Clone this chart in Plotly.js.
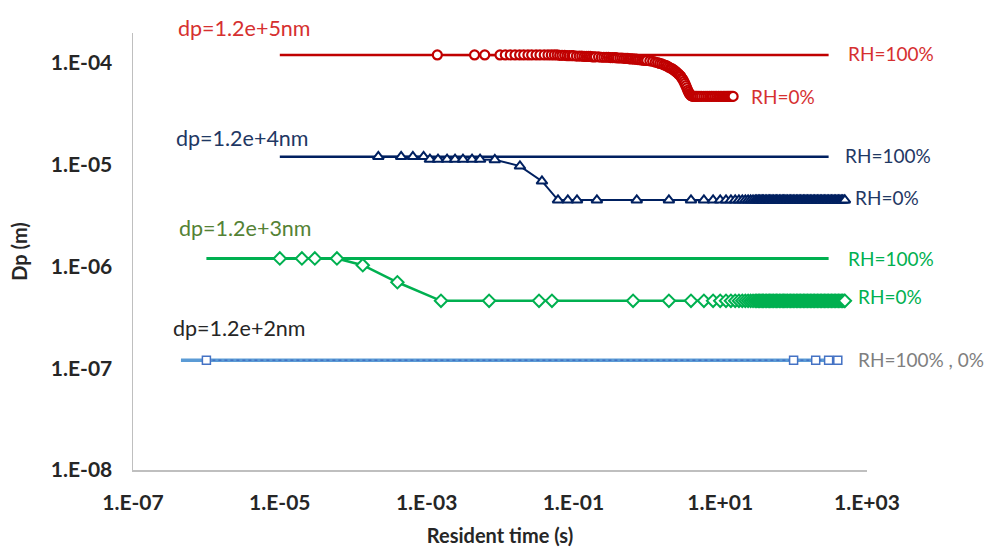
<!DOCTYPE html>
<html>
<head>
<meta charset="utf-8">
<script src="https://cdn.plot.ly/plotly-3.0.1.min.js"></script>
<style>
  html, body { margin: 0; padding: 0; background: #ffffff; }
  #chart { width: 986px; height: 548px; }
</style>
</head>
<body>
<div id="chart"></div>
<script>
// ---------- tick labels ----------
const xTickVals = [1e-7, 1e-5, 1e-3, 1e-1, 1e1, 1e3];
const xTickText = ['1.E-07', '1.E-05', '1.E-03', '1.E-01', '1.E+01', '1.E+03'];
const yTickVals = [1e-8, 1e-7, 1e-6, 1e-5, 1e-4];
const yTickText = ['1.E-08', '1.E-07', '1.E-06', '1.E-05', '1.E-04'];

// ---------- RH = 100% (no evaporation) ----------
const redWetT = [1e-5, 300];
const redWetD = [1.2e-4, 1.2e-4];
const navyWetT = [1e-5, 300];
const navyWetD = [1.2e-5, 1.2e-5];
const greenWetT = [1e-6, 300];
const greenWetD = [1.2e-6, 1.2e-6];
const blueWetT = [4.5e-7, 400];
const blueWetD = [1.2e-7, 1.2e-7];

// ---------- RH = 0% ----------
const redDryT = [
  0.0014, 0.0045, 0.0062, 0.010, 0.0118, 0.0138, 0.016, 0.0185, 0.021, 0.024,
  0.027, 0.031, 0.035, 0.040, 0.045, 0.050, 0.055, 0.060, 0.065, 0.070,
  0.076, 0.082, 0.088, 0.095, 0.10, 0.11, 0.12, 0.13, 0.14, 0.15,
  0.16, 0.17, 0.18, 0.19, 0.20, 0.22, 0.24, 0.26, 0.28, 0.30,
  0.32, 0.34, 0.36, 0.38, 0.40, 0.43, 0.46, 0.49, 0.52, 0.55,
  0.58, 0.61, 0.64, 0.68, 0.72, 0.76, 0.80, 0.85, 0.90, 0.95,
  1.0, 1.1, 1.2, 1.3, 1.4, 1.5, 1.6, 1.7, 1.8, 1.9,
  2.0, 2.1, 2.2, 2.3, 2.4, 2.5, 2.6, 2.7, 2.8, 2.9,
  3.0, 3.1, 3.2, 3.3, 3.4, 3.5, 3.6, 3.7, 3.8, 3.9,
  4.0, 4.1, 4.2, 4.4, 4.6, 4.8, 5.0, 5.3, 5.6, 6.0,
  6.4, 6.8, 7.2, 7.6, 8.0, 8.5, 9.0, 9.5, 10, 10.5,
  11, 11.5, 12, 12.5, 13, 13.5, 14, 14.5, 15
];
const redDryD = [
  1.2e-4, 1.2e-4, 1.2e-4, 1.2e-4, 1.2e-4, 1.2e-4, 1.2e-4, 1.2e-4, 1.2e-4, 1.2e-4,
  1.2e-4, 1.2e-4, 1.2e-4, 1.2e-4, 1.2e-4, 1.2e-4, 1.2e-4, 1.2e-4, 1.19e-4, 1.19e-4,
  1.19e-4, 1.18e-4, 1.18e-4, 1.18e-4, 1.18e-4, 1.17e-4, 1.17e-4, 1.17e-4, 1.16e-4, 1.16e-4,
  1.16e-4, 1.16e-4, 1.15e-4, 1.15e-4, 1.15e-4, 1.15e-4, 1.14e-4, 1.14e-4, 1.14e-4, 1.14e-4,
  1.13e-4, 1.13e-4, 1.13e-4, 1.13e-4, 1.12e-4, 1.12e-4, 1.12e-4, 1.11e-4, 1.11e-4, 1.11e-4,
  1.10e-4, 1.10e-4, 1.10e-4, 1.09e-4, 1.09e-4, 1.08e-4, 1.08e-4, 1.07e-4, 1.07e-4, 1.06e-4,
  1.06e-4, 1.05e-4, 1.04e-4, 1.02e-4, 1.01e-4, 9.9e-5, 9.8e-5, 9.6e-5, 9.5e-5, 9.3e-5,
  9.1e-5, 8.9e-5, 8.8e-5, 8.6e-5, 8.4e-5, 8.2e-5, 8.0e-5, 7.8e-5, 7.6e-5, 7.4e-5,
  7.1e-5, 6.9e-5, 6.6e-5, 6.3e-5, 6.0e-5, 5.7e-5, 5.4e-5, 5.2e-5, 5.0e-5, 4.9e-5,
  4.8e-5, 4.75e-5, 4.7e-5, 4.7e-5, 4.7e-5, 4.7e-5, 4.7e-5, 4.7e-5, 4.7e-5, 4.7e-5,
  4.7e-5, 4.7e-5, 4.7e-5, 4.7e-5, 4.7e-5, 4.7e-5, 4.7e-5, 4.7e-5, 4.7e-5, 4.7e-5,
  4.7e-5, 4.7e-5, 4.7e-5, 4.7e-5, 4.7e-5, 4.7e-5, 4.7e-5, 4.7e-5, 4.7e-5
];

// late-time samples shared by the 1.2e+4 nm and 1.2e+3 nm runs (s)
const lateT = [
  2, 4, 6, 8, 10, 12, 14, 16, 18, 20,
  22, 24, 26, 28, 30, 31.5, 33, 34.5, 36, 37.5,
  39, 41, 43, 45, 47, 49, 51, 53.5, 56, 58.5,
  61, 64, 67, 70, 73, 76, 79, 83, 87, 91,
  95, 99, 104, 109, 114, 119, 124, 130, 136, 142,
  148, 155, 162, 169, 177, 185, 193, 202, 211, 221,
  231, 241, 252, 263, 275, 287, 300, 314, 328, 343,
  358, 374, 391, 409, 427, 446, 466, 487, 500
];

const navyEarlyT = [
  2.2e-4, 4.5e-4, 6.5e-4, 9.1e-4, 1.11e-3, 1.43e-3, 1.9e-3, 2.44e-3, 3.13e-3, 4.16e-3,
  5.35e-3, 8.5e-3, 0.0187, 0.0373, 0.0617, 0.084, 0.112, 0.209, 0.73
];
const navyEarlyD = [
  1.2e-5, 1.2e-5, 1.2e-5, 1.2e-5, 1.13e-5, 1.13e-5, 1.13e-5, 1.13e-5, 1.13e-5, 1.13e-5,
  1.13e-5, 1.12e-5, 9.7e-6, 6.9e-6, 4.5e-6, 4.5e-6, 4.5e-6, 4.5e-6, 4.5e-6
];
const navyLateD = [
  4.5e-6, 4.5e-6, 4.5e-6, 4.5e-6, 4.5e-6, 4.5e-6, 4.5e-6, 4.5e-6, 4.5e-6, 4.5e-6,
  4.5e-6, 4.5e-6, 4.5e-6, 4.5e-6, 4.5e-6, 4.5e-6, 4.5e-6, 4.5e-6, 4.5e-6, 4.5e-6,
  4.5e-6, 4.5e-6, 4.5e-6, 4.5e-6, 4.5e-6, 4.5e-6, 4.5e-6, 4.5e-6, 4.5e-6, 4.5e-6,
  4.5e-6, 4.5e-6, 4.5e-6, 4.5e-6, 4.5e-6, 4.5e-6, 4.5e-6, 4.5e-6, 4.5e-6, 4.5e-6,
  4.5e-6, 4.5e-6, 4.5e-6, 4.5e-6, 4.5e-6, 4.5e-6, 4.5e-6, 4.5e-6, 4.5e-6, 4.5e-6,
  4.5e-6, 4.5e-6, 4.5e-6, 4.5e-6, 4.5e-6, 4.5e-6, 4.5e-6, 4.5e-6, 4.5e-6, 4.5e-6,
  4.5e-6, 4.5e-6, 4.5e-6, 4.5e-6, 4.5e-6, 4.5e-6, 4.5e-6, 4.5e-6, 4.5e-6, 4.5e-6,
  4.5e-6, 4.5e-6, 4.5e-6, 4.5e-6, 4.5e-6, 4.5e-6, 4.5e-6, 4.5e-6, 4.5e-6
];

const greenEarlyT = [1e-5, 2e-5, 3e-5, 6e-5, 1.35e-4, 4e-4, 1.57e-3, 7.1e-3, 0.034, 0.051, 0.65];
const greenEarlyD = [1.2e-6, 1.2e-6, 1.2e-6, 1.2e-6, 1.03e-6, 7.0e-7, 4.6e-7, 4.6e-7, 4.6e-7, 4.6e-7, 4.6e-7];
const greenLateD = [
  4.6e-7, 4.6e-7, 4.6e-7, 4.6e-7, 4.6e-7, 4.6e-7, 4.6e-7, 4.6e-7, 4.6e-7, 4.6e-7,
  4.6e-7, 4.6e-7, 4.6e-7, 4.6e-7, 4.6e-7, 4.6e-7, 4.6e-7, 4.6e-7, 4.6e-7, 4.6e-7,
  4.6e-7, 4.6e-7, 4.6e-7, 4.6e-7, 4.6e-7, 4.6e-7, 4.6e-7, 4.6e-7, 4.6e-7, 4.6e-7,
  4.6e-7, 4.6e-7, 4.6e-7, 4.6e-7, 4.6e-7, 4.6e-7, 4.6e-7, 4.6e-7, 4.6e-7, 4.6e-7,
  4.6e-7, 4.6e-7, 4.6e-7, 4.6e-7, 4.6e-7, 4.6e-7, 4.6e-7, 4.6e-7, 4.6e-7, 4.6e-7,
  4.6e-7, 4.6e-7, 4.6e-7, 4.6e-7, 4.6e-7, 4.6e-7, 4.6e-7, 4.6e-7, 4.6e-7, 4.6e-7,
  4.6e-7, 4.6e-7, 4.6e-7, 4.6e-7, 4.6e-7, 4.6e-7, 4.6e-7, 4.6e-7, 4.6e-7, 4.6e-7,
  4.6e-7, 4.6e-7, 4.6e-7, 4.6e-7, 4.6e-7, 4.6e-7, 4.6e-7, 4.6e-7, 4.6e-7
];

const blueDryT = [1e-6, 100, 200, 300, 400];
const blueDryD = [1.2e-7, 1.2e-7, 1.2e-7, 1.2e-7, 1.2e-7];

// ---------- text labels ----------
const sizeLabels = ['dp=1.2e+5nm', 'dp=1.2e+4nm', 'dp=1.2e+3nm', 'dp=1.2e+2nm'];
const rhLabels = ['RH=100%', 'RH=0%', 'RH=100%', 'RH=0%', 'RH=100%', 'RH=0%', 'RH=100% , 0%'];

// ---------- styling ----------
const RED = '#C00000', NAVY = '#002060', GREEN = '#00B050', LBLUE = '#5B9BD5', MBLUE = '#4472C4';
const FONT = 'Lato, "Open Sans", sans-serif';

function wetLine(t, d, color, w) {
  return { x: t, y: d, type: 'scatter', mode: 'lines', line: { color: color, width: w }, hoverinfo: 'skip' };
}
function dryLine(t, d, color, symbol, size, mlw, lw, dash) {
  return {
    x: t, y: d, type: 'scatter', mode: 'lines+markers',
    line: { color: color, width: lw, dash: dash || 'solid' },
    marker: { symbol: symbol, size: size, color: '#ffffff', line: { color: color, width: mlw } },
    hoverinfo: 'skip'
  };
}

const traces = [
  wetLine(blueWetT, blueWetD, LBLUE, 3.5),
  wetLine(greenWetT, greenWetD, GREEN, 3),
  wetLine(navyWetT, navyWetD, NAVY, 2.5),
  wetLine(redWetT, redWetD, RED, 2.5),
  dryLine(blueDryT, blueDryD, MBLUE, 'square', 8, 1.5, 1.5, 'dot'),
  dryLine(greenEarlyT.concat(lateT), greenEarlyD.concat(greenLateD), GREEN, 'diamond', 9.5, 2, 2.5),
  dryLine(navyEarlyT.concat(lateT), navyEarlyD.concat(navyLateD), NAVY, 'triangle-up', 9.5, 2, 2),
  dryLine(redDryT, redDryD, RED, 'circle', 9, 2.2, 2)
];

// annotation positions in paper fractions of the plot area
function lab(text, xp, yp, color, size) {
  return { text: text, x: xp, y: yp, xref: 'paper', yref: 'paper', showarrow: false,
           xanchor: 'left', yanchor: 'middle', borderpad: 0,
           font: { family: FONT, size: size, color: color } };
}
const annotations = [
  lab(sizeLabels[0], 0.0599, 1.0114, '#D63030', 21.5),
  lab(sizeLabels[1], 0.0572, 0.7597, '#1F3864', 21.5),
  lab(sizeLabels[2], 0.0613, 0.5538, '#548235', 21.5),
  lab(sizeLabels[3], 0.0531, 0.3249, '#262626', 21.5),
  lab(rhLabels[0], 0.9728, 0.9542, '#D63030', 19),
  lab(rhLabels[1], 0.8406, 0.8558, '#D63030', 19),
  lab(rhLabels[2], 0.9687, 0.7208, '#1F3864', 19),
  lab(rhLabels[3], 0.9823, 0.6247, '#1F3864', 19),
  lab(rhLabels[4], 0.9728, 0.4851, GREEN, 19),
  lab(rhLabels[5], 0.9864, 0.3959, GREEN, 19),
  lab(rhLabels[6], 0.9864, 0.2540, '#7F7F7F', 19)
];

const layout = {
  width: 986, height: 548,
  margin: { l: 133, r: 119, t: 33, b: 78, pad: 0 },
  paper_bgcolor: '#ffffff', plot_bgcolor: '#ffffff',
  showlegend: false,
  font: { family: FONT, color: '#262626' },
  xaxis: {
    type: 'log', range: [-7, 3],
    tickvals: xTickVals, ticktext: xTickText,
    showgrid: false, zeroline: false,
    showline: true, linecolor: '#BFBFBF', linewidth: 1.5, mirror: false,
    ticks: '', ticklabelstandoff: 13,
    tickfont: { family: FONT, size: 21, color: '#262626', weight: 'bold' },
    title: { text: 'Resident time (s)', standoff: 16,
             font: { family: FONT, size: 20, color: '#262626', weight: 'bold' } }
  },
  yaxis: {
    type: 'log', range: [-8, -3.705],
    tickvals: yTickVals, ticktext: yTickText,
    showgrid: false, zeroline: false,
    showline: true, linecolor: '#BFBFBF', linewidth: 1.5, mirror: false,
    ticks: '', ticklabelstandoff: 15,
    tickfont: { family: FONT, size: 21, color: '#262626', weight: 'bold' },
    title: { text: 'Dp (m)', standoff: 18,
             font: { family: FONT, size: 20, color: '#262626', weight: 'bold' } }
  },
  annotations: annotations
};

Plotly.newPlot('chart', traces, layout, { staticPlot: true, displayModeBar: false });
</script>
</body>
</html>
